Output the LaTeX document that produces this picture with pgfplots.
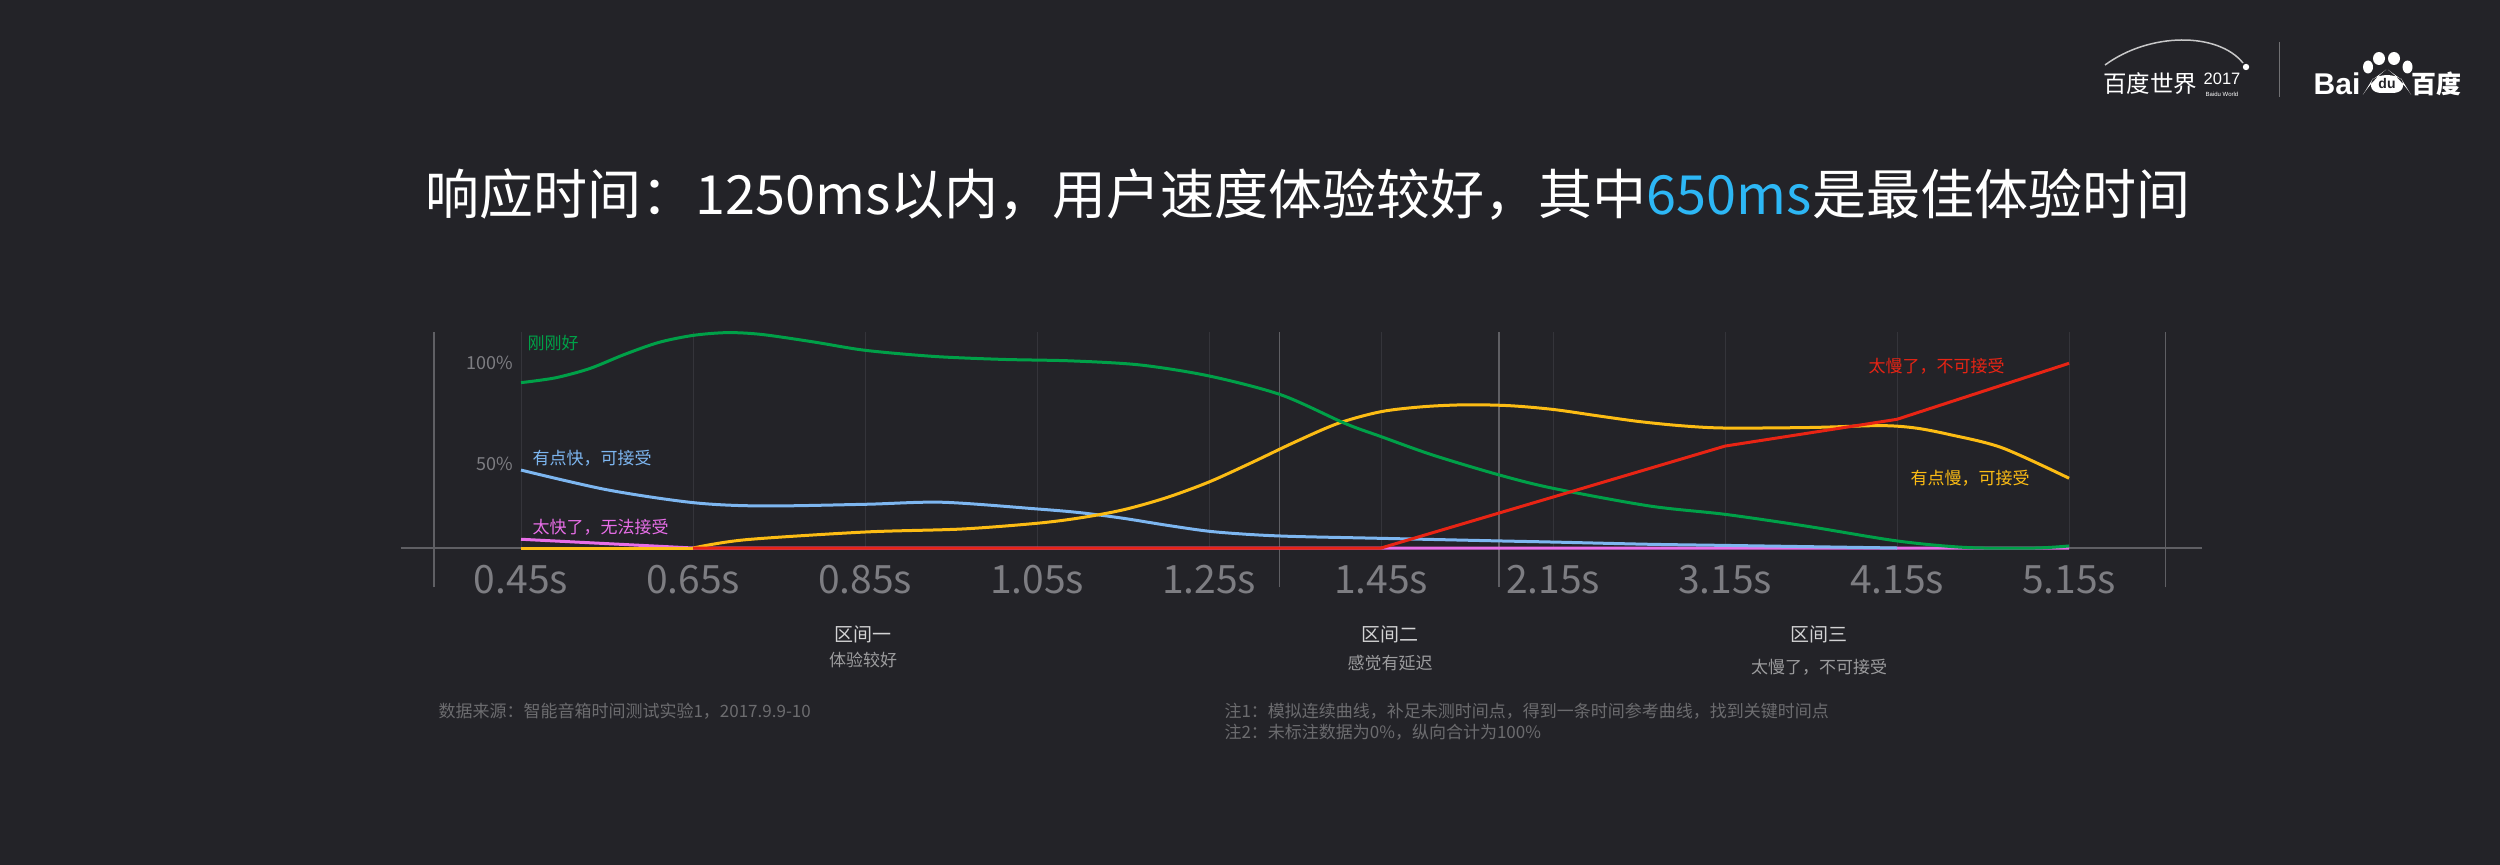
\documentclass[border=0pt]{standalone}
\usepackage{pgfplots}
\pgfplotsset{compat=1.18}
\usepackage{fontspec}
\setmainfont{Noto Sans CJK SC}
\newfontfamily\latin{Liberation Sans}

\definecolor{bg}{RGB}{35,35,40}
\definecolor{gridc}{RGB}{52,52,58}
\definecolor{divc}{RGB}{95,95,100}
\definecolor{tickc}{RGB}{125,125,130}
\definecolor{cgreen}{RGB}{0,160,72}
\definecolor{cblue}{RGB}{125,182,240}
\definecolor{cpink}{RGB}{232,110,232}
\definecolor{cyellow}{RGB}{252,188,20}
\definecolor{cred}{RGB}{232,36,20}
\definecolor{ccyan}{RGB}{45,183,245}

\newcommand\fs[1]{\fontsize{#1}{#1}\selectfont}

\begin{document}
\begin{tikzpicture}[x=0.4pt,y=-0.4pt]
% background, pixel coordinates of the 2500x865 picture
\fill[bg] (0,0) rectangle (2500,865);

% logos
\draw[white!75!bg, line width=0.6pt] (2105,65) .. controls (2150,32) and (2218,32) .. (2243,63);
\fill[white] (2246,67) circle (3.2);
\node[white, font=\fs{9.4}] at (2150,84) {百度世界};
\node[white, font=\latin\fs{6.6}] at (2222,79) {2017};
\node[white, font=\latin\fs{2.4}] at (2222,94) {Baidu World};
\draw[white!35!bg, line width=0.4pt] (2279,42) -- (2279,97);
\node[white, font=\latin\bfseries\fs{12}] at (2337,84) {Bai};
\fill[white] (2368,67) ellipse (5 and 6.5);
\fill[white] (2379,58.5) ellipse (6 and 6.5);
\fill[white] (2394,58.5) ellipse (6 and 6.5);
\fill[white] (2407.5,67) ellipse (5 and 6.5);
\fill[white, rounded corners=7] (2372,80) -- (2387,69) -- (2402,80) -- (2410,93) -- (2364,93) -- cycle;
\node[bg, font=\latin\bfseries\fs{5.6}] at (2387,84) {du};
\node[white, font=\bfseries\fs{10}] at (2436,84) {百度};

% title
\node[white, font=\fs{21.6}] at (1308,194) {响应时间：1250ms以内，用户速度体验较好，其中\textcolor{ccyan}{650ms}是最佳体验时间};

\begin{axis}[
  at={(208.4pt,-219.2pt)}, anchor=origin,
  x=68.8pt, y=0.744pt,
  xmin=-0.7, xmax=9.77, ymin=-21.2, ymax=117,
  clip=false,
  axis line style={draw=none},
  major tick length=0pt,
  xtick={0,1,2,3,4,5,6,7,8,9},
  xticklabels={0.45s,0.65s,0.85s,1.05s,1.25s,1.45s,2.15s,3.15s,4.15s,5.15s},
  xticklabel style={font=\fs{15.6}, text=tickc, anchor=base, inner sep=0pt, yshift=-2.4pt},
  ytick={45.2,99.6},
  yticklabels={50\%,100\%},
  yticklabel style={font=\fs{7.2}, text=tickc, anchor=east, inner sep=0pt, xshift=45pt},
]
% faint grid at each time point, dividers between the three zones
\foreach \i in {0,...,9} {
  \edef\tmp{\noexpand\draw[gridc, line width=0.4pt] (axis cs:\i,0) -- (axis cs:\i,116);}\tmp
}
\foreach \i in {-0.506,4.41,5.686,9.56} {
  \edef\tmp{\noexpand\draw[divc, line width=0.6pt] (axis cs:\i,-21.2) -- (axis cs:\i,116.3);}\tmp
}
\draw[divc, line width=0.6pt] (axis cs:-0.7,0) -- (axis cs:9.77,0);

% 太快了，无法接受
\addplot[cpink, line width=1.2pt, sharp plot] coordinates {
  (0,4.7) (1,0) (9,0)};
% 有点快，可接受
\addplot[cblue, line width=1.2pt, smooth] coordinates {
  (0,41.9) (0.5,31.3) (1,24.4) (1.4,22.6) (2,23.5) (2.45,24.6) (3,21)
  (3.25,19) (3.5,16) (3.75,12.3) (4,9) (4.25,7.2) (4.5,6.2) (5,5.2)
  (5.69,3.8) (6,3.2) (6.56,2) (7,1.4) (8,0)};
% 有点慢，可接受
\addplot[cyellow, line width=1.2pt, sharp plot] coordinates {(0,0) (1,0)};
\addplot[cyellow, line width=1.2pt, smooth] coordinates {
  (1,0) (1.3,4.4) (2,8.6) (2.56,10.2) (3,13.3) (3.25,16.2) (3.5,20.5)
  (3.75,27) (4,35.5) (4.25,46) (4.5,57) (4.75,67) (5,73.3) (5.25,76)
  (5.5,77) (5.75,76.5) (6,74.5) (6.25,71.2) (6.5,68) (6.75,65.7)
  (7,64.5) (7.5,64.8) (7.9,65.8) (8.1,64.6) (8.3,61.1) (8.61,53.9)
  (9,37.5)};
% 刚刚好
\addplot[cgreen, line width=1.2pt, smooth] coordinates {
  (0,88.9) (0.2,91.5) (0.4,96.5) (0.6,104) (0.8,110.5) (1,114.3)
  (1.2,115.8) (1.4,114.8) (1.7,110.8) (2,106.3) (2.4,103) (2.8,101.4)
  (3.2,100.6) (3.6,98.4) (4,92.5) (4.42,82.3) (4.79,67) (5,59.9)
  (5.3,50) (5.69,39.2) (6,32.1) (6.56,22.6) (7,18.1) (7.47,11.8)
  (8,3.8) (8.4,0.3) (8.8,0) (9,1.1)};
% 太慢了，不可接受
\addplot[cred, line width=1.2pt, sharp plot] coordinates {
  (1,0) (5,0) (7,54.8) (8,69.2) (9,99.3)};
\end{axis}

% series names
\node[cgreen, font=\fs{6.8}, anchor=west, inner sep=0pt] at (527,343) {刚刚好};
\node[cblue, font=\fs{6.8}, anchor=west, inner sep=0pt] at (532,458) {有点快，可接受};
\node[cpink, font=\fs{6.8}, anchor=west, inner sep=0pt] at (532,527) {太快了，无法接受};
\node[cred, font=\fs{6.8}, anchor=west, inner sep=0pt] at (1868,366) {太慢了，不可接受};
\node[cyellow, font=\fs{6.8}, anchor=west, inner sep=0pt] at (1910,478) {有点慢，可接受};

% zones
\node[white!80!bg, font=\fs{7.6}] at (863,634) {区间一};
\node[white!55!bg, font=\fs{6.8}] at (863,660) {体验较好};
\node[white!80!bg, font=\fs{7.6}] at (1390,634) {区间二};
\node[white!55!bg, font=\fs{6.8}] at (1390,663) {感觉有延迟};
\node[white!80!bg, font=\fs{7.6}] at (1819,634) {区间三};
\node[white!55!bg, font=\fs{6.8}] at (1819,667) {太慢了，不可接受};

% notes
\node[white!33!bg, font=\fs{6.8}, anchor=west, inner sep=0pt] at (438,711) {数据来源：智能音箱时间测试实验1，2017.9.9-10};
\node[white!33!bg, font=\fs{6.8}, anchor=west, inner sep=0pt] at (1224,711) {注1：模拟连续曲线，补足未测时间点，得到一条时间参考曲线，找到关键时间点};
\node[white!33!bg, font=\fs{6.8}, anchor=west, inner sep=0pt] at (1224,732) {注2：未标注数据为0\%，纵向合计为100\%};

\pgfresetboundingbox
\path (0,0) rectangle (2500,865);
\end{tikzpicture}
\end{document}
